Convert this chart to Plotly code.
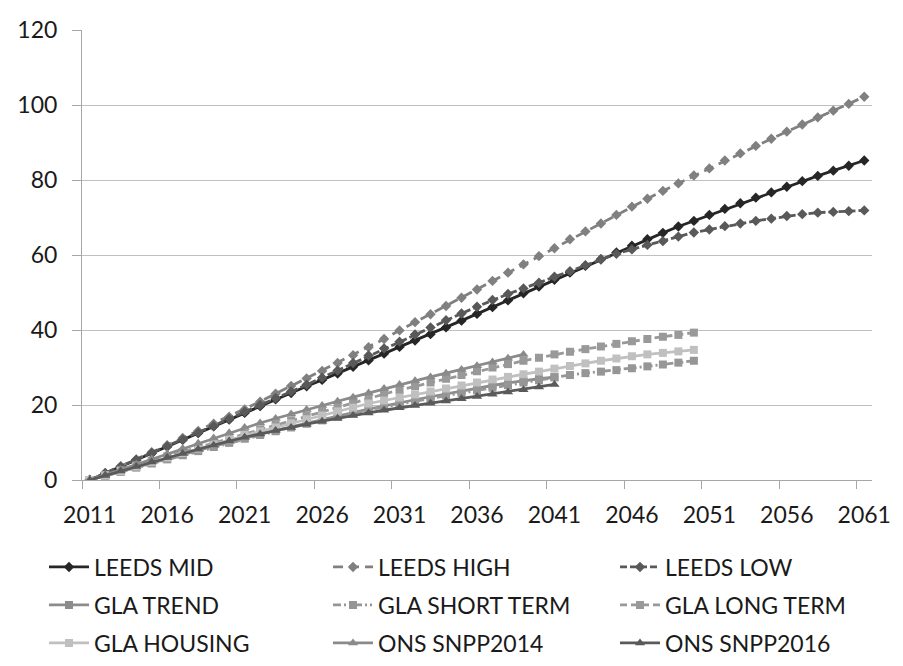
import plotly.graph_objects as go

years = list(range(2011, 2062))

leeds_mid = [0, 1.8, 3.5, 5.3, 7.1, 8.9, 10.7, 12.5, 14.3, 16.1, 17.9, 19.7, 21.5, 23.2, 25.0, 26.7,
             28.4, 30.2, 31.9, 33.7, 35.5, 37.2, 38.9, 40.7, 42.5, 44.3, 46.1, 47.9, 49.8, 51.6, 53.4,
             55.3, 57.1, 58.9, 60.7, 62.5, 64.2, 65.9, 67.6, 69.1, 70.7, 72.3, 73.8, 75.3, 76.7, 78.2,
             79.7, 81.1, 82.5, 83.8, 85.2]
leeds_high = [0, 1.8, 3.6, 5.5, 7.4, 9.3, 11.2, 13.1, 15.0, 16.9, 18.8, 20.9, 23.0, 25.1, 27.1, 29.1,
              31.2, 33.3, 35.4, 37.6, 39.9, 42.1, 44.2, 46.4, 48.6, 50.8, 53.1, 55.3, 57.5, 59.7, 61.8,
              64.2, 66.3, 68.4, 70.7, 72.9, 75.0, 77.1, 79.1, 81.2, 83.1, 85.2, 87.1, 89.1, 91.0, 92.9,
              94.8, 96.7, 98.5, 100.3, 102.2]
leeds_low = [0, 1.8, 3.6, 5.4, 7.2, 9.0, 10.8, 12.6, 14.4, 16.3, 18.2, 20.0, 21.8, 23.6, 25.4, 27.3,
             29.2, 31.2, 33.2, 35.1, 36.9, 38.8, 40.7, 42.6, 44.4, 46.2, 48.0, 49.6, 51.1, 52.6, 54.2,
             55.7, 57.3, 58.8, 60.3, 61.5, 62.7, 63.7, 64.9, 66.0, 66.8, 67.7, 68.4, 69.1, 69.7, 70.4,
             70.9, 71.3, 71.5, 71.7, 71.9]
gla_trend = [0, 1.15, 2.3, 3.45, 4.6, 5.7, 6.8, 7.9, 9.0, 10.1, 11.2, 12.2, 13.2, 14.2, 15.2, 16.1,
             17.0, 18.0, 18.9, 19.8, 20.6, 21.4, 22.2, 23.0, 23.8, 24.5, 25.2, 25.9, 26.5, 27.0, 27.4]
gla_short = [0, 1.1, 2.2, 3.3, 4.4, 5.5, 6.6, 7.7, 8.8, 9.9, 11.0, 12.0, 13.0, 14.0, 15.0, 15.9,
             16.8, 17.8, 18.7, 19.5, 20.3, 21.1, 21.8, 22.5, 23.2, 23.9, 24.6, 25.3, 26.0, 26.6, 27.4,
             28.0, 28.5, 28.9, 29.3, 29.8, 30.3, 30.8, 31.3, 31.8]
gla_long = [0, 1.3, 2.6, 3.9, 5.1, 6.3, 7.5, 8.7, 9.9, 11.1, 12.3, 13.5, 14.7, 15.9, 17.1, 18.3,
            19.5, 20.7, 21.8, 22.9, 24.0, 25.0, 26.0, 27.0, 28.0, 29.0, 30.0, 30.9, 31.8, 32.6, 33.5,
            34.2, 34.9, 35.6, 36.3, 37.0, 37.6, 38.2, 38.7, 39.3]
gla_housing = [0, 1.2, 2.4, 3.6, 4.8, 6.0, 7.2, 8.4, 9.6, 10.8, 12.0, 13.0, 14.0, 15.1, 16.2, 17.2,
               18.3, 19.3, 20.4, 21.2, 22.0, 22.8, 23.6, 24.4, 25.2, 26.0, 26.8, 27.5, 28.2, 28.9, 29.7,
               30.4, 31.1, 31.8, 32.4, 33.0, 33.5, 33.9, 34.3, 34.7]
ons_2014 = [0, 1.4, 2.8, 4.2, 5.6, 7.0, 8.4, 9.8, 11.2, 12.6, 14.0, 15.2, 16.4, 17.6, 18.8, 19.9,
            21.0, 22.1, 23.2, 24.4, 25.5, 26.5, 27.5, 28.5, 29.5, 30.5, 31.5, 32.5, 33.5]
ons_2016 = [0, 1.2, 2.4, 3.6, 4.8, 6.0, 7.1, 8.2, 9.3, 10.4, 11.4, 12.3, 13.2, 14.0, 14.9, 15.7,
            16.5, 17.2, 17.9, 18.6, 19.3, 19.9, 20.5, 21.1, 21.7, 22.3, 22.9, 23.5, 24.1, 24.8, 25.5]

x_labels = [str(y) for y in range(2011, 2062, 5)]

FONT = "Lato"
TXT = "#1a1a1a"

series = [
    ("LEEDS MID", leeds_mid, "#262626", "solid", "diamond", 8),
    ("LEEDS HIGH", leeds_high, "#808080", "10px,6px", "diamond", 8),
    ("LEEDS LOW", leeds_low, "#595959", "7px,3px", "diamond", 8),
    ("GLA TREND", gla_trend, "#8c8c8c", "solid", "square", 8),
    ("GLA SHORT TERM", gla_short, "#969696", "8px,3px,2px,3px,2px,3px", "square", 8),
    ("GLA LONG TERM", gla_long, "#999999", "7px,4px", "square", 8),
    ("GLA HOUSING", gla_housing, "#c0c0c0", "solid", "square", 8),
    ("ONS SNPP2014", ons_2014, "#8a8a8a", "solid", "triangle-up", 9),
    ("ONS SNPP2016", ons_2016, "#5a5a5a", "solid", "triangle-up", 9),
]

# page body has an 8px offset; all pixel targets below are in figure coordinates
W, H = 903, 666
L, T = 74, 22
PW, PH = 790, 450
R, B = W - L - PW, H - T - PH


def px_x(px):
    return (px - L) / PW


def px_y(py):
    return (T + PH - py) / PH


leg_cols = [36, 320, 607]
leg_rows = [559, 597, 635]

fig = go.Figure()
legends = {}
for i, (name, vals, col, dash, sym, msz) in enumerate(series):
    lg = "legend" if i == 0 else f"legend{i + 1}"
    fig.add_trace(go.Scatter(
        x=years[:len(vals)], y=vals, name=name, mode="lines+markers",
        line=dict(color=col, width=2.8, dash=dash),
        marker=dict(symbol=sym, size=msz, color=col, line=dict(width=0)),
        legend=lg,
    ))
    legends[lg] = dict(
        x=px_x(leg_cols[i % 3]), y=px_y(leg_rows[i // 3]),
        xanchor="left", yanchor="middle", orientation="h", itemwidth=40,
        font=dict(family=FONT, size=23, color=TXT), bgcolor="rgba(0,0,0,0)",
    )

fig.update_layout(
    width=W, height=H,
    margin=dict(l=L, r=R, t=T, b=B, autoexpand=False),
    paper_bgcolor="white", plot_bgcolor="white",
    font=dict(family=FONT, size=23, color=TXT),
    showlegend=True,
    xaxis=dict(
        range=[2010.5, 2061.5], tickmode="array",
        tickvals=[int(t) for t in x_labels], ticktext=x_labels,
        ticks="", showgrid=False, zeroline=False,
        showline=True, linecolor="#a6a6a6", linewidth=1,
        ticklabelstandoff=14,
        tickfont=dict(family=FONT, size=23, color=TXT),
        minor=dict(tickmode="array", tickvals=[2010.5 + 5 * i for i in range(11)],
                   ticks="outside", ticklen=8, tickcolor="#a6a6a6", tickwidth=1, showgrid=False),
    ),
    yaxis=dict(
        range=[0, 120], dtick=20, tick0=0,
        showgrid=True, gridcolor="#c0c0c0", gridwidth=1,
        zeroline=False, showline=True, linecolor="#a6a6a6", linewidth=1,
        ticks="outside", ticklen=9, tickcolor="#a6a6a6",
        ticklabelstandoff=10,
        tickfont=dict(family=FONT, size=23, color=TXT),
    ),
    **legends,
)

fig.write_html("out.html")
